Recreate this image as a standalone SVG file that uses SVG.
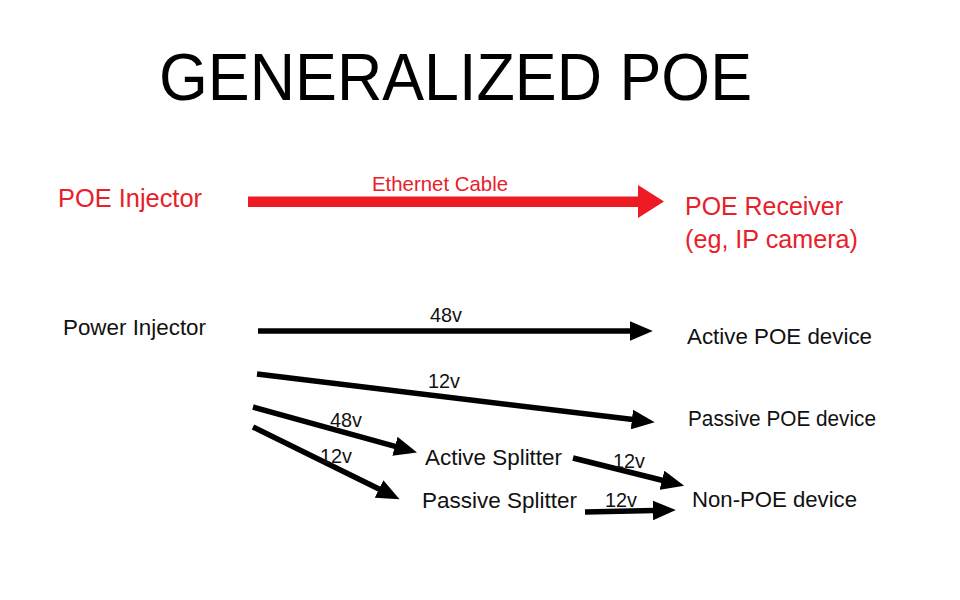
<svg xmlns="http://www.w3.org/2000/svg" width="960" height="600" viewBox="0 0 960 600">
<style>
text{font-family:"Liberation Sans",Arial,sans-serif}
.red{fill:#E8202A}
.blk{fill:#111}
.conn line{stroke:#000;stroke-width:5.5;marker-end:url(#ah)}
</style>
<defs>
<marker id="ah" markerUnits="userSpaceOnUse" markerWidth="24" markerHeight="20" refX="1" refY="9" orient="auto" viewBox="0 0 22 18">
<path d="M0,0 L21,9 L0,18 z" fill="#000"/>
</marker>
</defs>
<rect width="960" height="600" fill="#fff"/>
<text x="159" y="100" font-size="67" textLength="593" lengthAdjust="spacingAndGlyphs" fill="#000">GENERALIZED POE</text>

<g id="poe-injector"><text class="red" x="58" y="207" font-size="25" textLength="144" lengthAdjust="spacingAndGlyphs">POE Injector</text></g>
<g id="poe-receiver">
<text class="red" x="685" y="215" font-size="25" textLength="158" lengthAdjust="spacingAndGlyphs">POE Receiver</text>
<text class="red" x="685" y="248" font-size="25" textLength="173" lengthAdjust="spacingAndGlyphs">(eg, IP camera)</text>
</g>
<g id="power-injector"><text class="blk" x="63" y="335" font-size="22" textLength="143" lengthAdjust="spacingAndGlyphs">Power Injector</text></g>
<g id="active-poe"><text class="blk" x="687" y="344" font-size="22" textLength="185" lengthAdjust="spacingAndGlyphs">Active POE device</text></g>
<g id="passive-poe"><text class="blk" x="688" y="426" font-size="22" textLength="188" lengthAdjust="spacingAndGlyphs">Passive POE device</text></g>
<g id="active-splitter"><text class="blk" x="425" y="465" font-size="22" textLength="137" lengthAdjust="spacingAndGlyphs">Active Splitter</text></g>
<g id="passive-splitter"><text class="blk" x="422" y="508" font-size="22" textLength="155" lengthAdjust="spacingAndGlyphs">Passive Splitter</text></g>
<g id="non-poe"><text class="blk" x="692" y="507" font-size="22" textLength="165" lengthAdjust="spacingAndGlyphs">Non-POE device</text></g>

<g id="connectors">
<g id="ethernet-cable">
<polygon points="248,196.5 638,196.5 638,185 664,201.5 638,218 638,207 248,207" fill="#ED1C24"/>
<text class="red" x="372" y="191" font-size="21" textLength="136" lengthAdjust="spacingAndGlyphs">Ethernet Cable</text>
</g>
<g class="conn">
<line x1="258" y1="331" x2="631" y2="331"/>
<line x1="257" y1="374" x2="633" y2="419.6"/>
<line x1="253" y1="407" x2="396" y2="446.6"/>
<line x1="253" y1="427" x2="380" y2="489.5"/>
<line x1="573" y1="458" x2="663" y2="480.5"/>
<line x1="585" y1="512" x2="654" y2="510.5"/>
</g>
<g class="blk" font-size="21">
<text x="430" y="322" textLength="32" lengthAdjust="spacingAndGlyphs">48v</text>
<text x="428" y="388" textLength="32" lengthAdjust="spacingAndGlyphs">12v</text>
<text x="330" y="427" textLength="32" lengthAdjust="spacingAndGlyphs">48v</text>
<text x="320" y="463" textLength="32" lengthAdjust="spacingAndGlyphs">12v</text>
<text x="613" y="468" textLength="32" lengthAdjust="spacingAndGlyphs">12v</text>
<text x="605" y="507" textLength="32" lengthAdjust="spacingAndGlyphs">12v</text>
</g>
</g>
</svg>
